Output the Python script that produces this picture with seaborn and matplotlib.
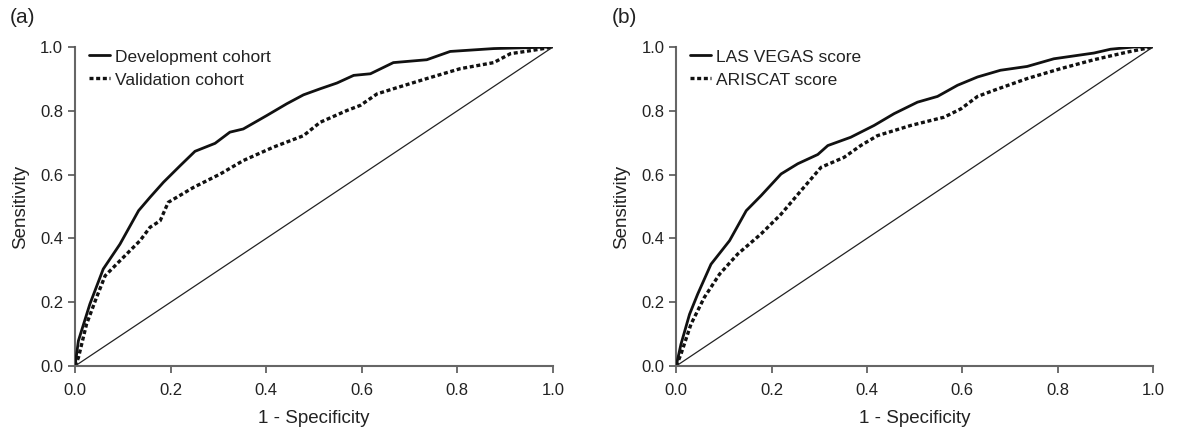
#!/usr/bin/env python3
"""ROC curves: development vs validation cohort, LAS VEGAS vs ARISCAT score."""

import matplotlib
matplotlib.use("Agg")
import matplotlib.pyplot as plt
import seaborn as sns
import pandas as pd

# Panel (a) - development cohort
dev_fpr = [0.0, 0.007, 0.031, 0.059, 0.094, 0.133, 0.157, 0.185, 0.220, 0.251,
           0.293, 0.324, 0.352, 0.401, 0.443, 0.478, 0.513, 0.548, 0.583, 0.618,
           0.666, 0.736, 0.785, 0.876, 1.0]
dev_tpr = [0.0, 0.079, 0.194, 0.304, 0.382, 0.487, 0.529, 0.576, 0.628, 0.673,
           0.698, 0.733, 0.743, 0.785, 0.822, 0.850, 0.869, 0.887, 0.911, 0.916,
           0.951, 0.960, 0.986, 0.995, 1.0]

# Panel (a) - validation cohort
val_fpr = [0.0, 0.007, 0.024, 0.045, 0.063, 0.094, 0.136, 0.157, 0.178, 0.195,
           0.248, 0.304, 0.352, 0.415, 0.478, 0.513, 0.569, 0.597, 0.632, 0.666,
           0.736, 0.806, 0.876, 0.911, 0.960, 1.0]
val_tpr = [0.0, 0.026, 0.131, 0.215, 0.283, 0.330, 0.393, 0.435, 0.455, 0.513,
           0.560, 0.602, 0.644, 0.686, 0.722, 0.764, 0.801, 0.817, 0.853, 0.869,
           0.901, 0.932, 0.951, 0.979, 0.990, 1.0]

# Panel (b) - LAS VEGAS score
lv_fpr = [0.0, 0.010, 0.028, 0.045, 0.073, 0.112, 0.147, 0.178, 0.220, 0.255,
          0.297, 0.318, 0.366, 0.415, 0.457, 0.506, 0.548, 0.590, 0.632, 0.680,
          0.736, 0.792, 0.876, 0.911, 0.960, 1.0]
lv_tpr = [0.0, 0.068, 0.162, 0.225, 0.319, 0.393, 0.487, 0.534, 0.602, 0.634,
          0.663, 0.691, 0.717, 0.754, 0.791, 0.827, 0.845, 0.880, 0.906, 0.927,
          0.939, 0.963, 0.981, 0.993, 1.0, 1.0]

# Panel (b) - ARISCAT score
ar_fpr = [0.0, 0.010, 0.031, 0.059, 0.091, 0.129, 0.178, 0.220, 0.262, 0.304,
          0.352, 0.387, 0.422, 0.492, 0.562, 0.597, 0.632, 0.666, 0.736, 0.806,
          0.876, 0.946, 1.0]
ar_tpr = [0.0, 0.037, 0.131, 0.215, 0.288, 0.351, 0.414, 0.476, 0.550, 0.623,
          0.654, 0.691, 0.722, 0.754, 0.780, 0.806, 0.845, 0.864, 0.901, 0.932,
          0.960, 0.984, 1.0]

ref_line = [0.0, 1.0]
ticks = [0.0, 0.2, 0.4, 0.6, 0.8, 1.0]

sns.set_style("ticks")
plt.rcParams['font.family'] = ['Liberation Sans', 'DejaVu Sans']

fig = plt.figure(figsize=(11.78, 4.33), dpi=100)
ax_a = fig.add_axes([0.0637, 0.1547, 0.4057, 0.7368])
ax_b = fig.add_axes([0.5740, 0.1547, 0.4048, 0.7368])

panels = [
    (ax_a, "(a)", (dev_fpr, dev_tpr, "Development cohort"),
     (val_fpr, val_tpr, "Validation cohort")),
    (ax_b, "(b)", (lv_fpr, lv_tpr, "LAS VEGAS score"),
     (ar_fpr, ar_tpr, "ARISCAT score")),
]

for ax, tag, solid, dotted in panels:
    s_df = pd.DataFrame({"x": solid[0], "y": solid[1]})
    d_df = pd.DataFrame({"x": dotted[0], "y": dotted[1]})
    sns.lineplot(data=s_df, x="x", y="y", ax=ax, sort=False, color="#111111",
                 linewidth=2.0, label=solid[2])
    sns.lineplot(data=d_df, x="x", y="y", ax=ax, sort=False, color="#111111",
                 linewidth=2.4, linestyle=(0, (1.2, 0.8)), label=dotted[2])
    ax.plot(ref_line, ref_line, color="#222222", linewidth=0.9)

    ax.set_xlim(0, 1)
    ax.set_ylim(0, 1)
    ax.set_xticks(ticks)
    ax.set_yticks(ticks)
    ax.set_xticklabels([f"{t:.1f}" for t in ticks])
    ax.set_yticklabels([f"{t:.1f}" for t in ticks])
    ax.tick_params(colors="#555555", labelcolor="#222222", labelsize=12,
                   length=5, width=1.2)
    ax.tick_params(axis="x", pad=7)
    for side in ["left", "bottom"]:
        ax.spines[side].set_color("#666666")
        ax.spines[side].set_linewidth(1.5)
    sns.despine(ax=ax)
    ax.spines["left"].set_zorder(0)

    ax.set_xlabel("1 - Specificity", fontsize=13.5, color="#222222", labelpad=9)
    ax.set_ylabel("Sensitivity", fontsize=13.5, color="#222222", labelpad=8)

    leg = ax.legend(loc="upper left", frameon=False, fontsize=12.5,
                    handlelength=1.2, handletextpad=0.3, labelspacing=0.45,
                    borderaxespad=0.2, bbox_to_anchor=(0.008, 1.025))
    for txt in leg.get_texts():
        txt.set_color("#222222")

    ax.text(-0.136, 1.091, tag, transform=ax.transAxes, fontsize=15,
            color="#222222", va="center")

fig.savefig("out.png", dpi=100)
